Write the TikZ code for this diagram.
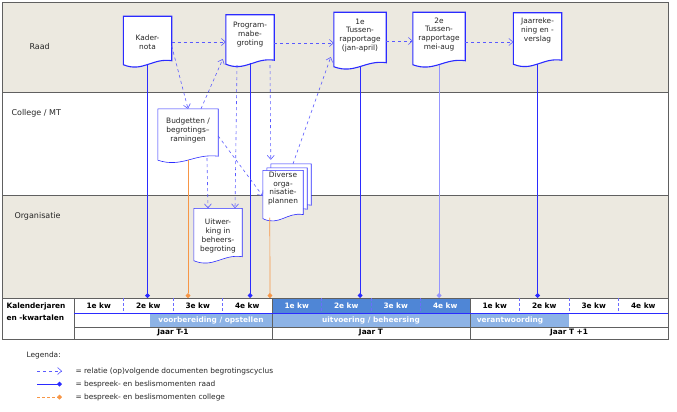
\documentclass[tikz,border=0pt]{standalone}
\usepackage{fontspec}
\setmainfont{DejaVu Sans}
\usetikzlibrary{arrows.meta,calc,shapes.geometric}
\definecolor{beige}{HTML}{ECE9E0}
\definecolor{docblue}{HTML}{2B2BFF}
\definecolor{arrblue}{HTML}{5A5AFF}
\definecolor{ora}{HTML}{F79646}
\definecolor{qblue}{HTML}{4F86D6}
\definecolor{bandblue}{HTML}{8DB3E6}
\definecolor{frame}{HTML}{606060}
\begin{document}
\begin{tikzpicture}[x=1pt,y=-1pt,font=\fontsize{7.4}{8.8}\selectfont,
  docn/.style={draw=none,inner sep=1pt,align=center,text=black!85},
  thickdoc/.style={draw=docblue,line width=1.1pt,fill=white},
  thindoc/.style={draw=docblue,line width=0.6pt,fill=white},
  rel/.style={draw=arrblue,dashed,line width=0.6pt,-{Straight Barb[length=4pt,width=7pt]}},
  raad/.style={draw=docblue,line width=1pt,-{Diamond[length=5pt,width=5pt]}},
  coll/.style={draw=ora,line width=0.7pt,-{Diamond[length=5pt,width=5pt,fill=ora]}},
  lane/.style={anchor=west,text=black!85,font=\fontsize{8}{9}\selectfont},
  kw/.style={font=\fontsize{7.4}{8.5}\selectfont\bfseries},
  band/.style={font=\fontsize{7.4}{8.5}\selectfont\bfseries,text=white}]
\newcommand\docnode[7]{%
  \node[docn,minimum width=#4pt,minimum height=#5pt] (#1) at (#2,#3) {#6};
  \path[#7] (#1.north west) -- (#1.north east) -- ($(#1.south east)+(0,-7)$)
   .. controls ($(#1.south east)+(-0.4*#4,-10)$) and ($(#1.south west)+(0.4*#4,5)$) .. ($(#1.south west)+(0,-3)$) -- cycle;
  \node[docn] at (#2,#3) {#6};}
\useasboundingbox (0,0) rectangle (677,412);
% lanes
\fill[beige] (2,2) rectangle (668,92);
\fill[beige] (2,195) rectangle (668,298);
\draw[frame,line width=0.7pt] (2,2) rectangle (668,298);
\draw[frame,line width=0.7pt] (2,92) -- (668,92) (2,195) -- (668,195);
\node[lane] (l1) at (26,47) {Raad};
\node[lane] (l2) at (8,113) {College / MT};
\node[lane] (l3) at (11,216) {Organisatie};
% table
\fill[qblue] (272,298) rectangle (470,313);
\fill[bandblue] (150,314) rectangle (272,327);
\fill[bandblue] (272,314) rectangle (470,327);
\fill[bandblue] (470,314) rectangle (569,327);
\draw[frame,line width=0.7pt] (2,298) rectangle (668,339);
\draw[frame,line width=0.6pt] (74,298) -- (74,339) (272,298) -- (272,339) (470,298) -- (470,339) (74,327) -- (668,327);
\foreach \x in {123.5,173,222.5,321.5,371,420.5,519.5,569,618.5}
  \draw[docblue!70,densely dashed,line width=0.4pt] (\x,298) -- (\x,313);
\draw[docblue,line width=1.2pt] (74,313.5) -- (668,313.5);
\node[kw,anchor=west] (k1) at (3,306) {Kalenderjaren};
\node[kw,anchor=west] (k2) at (3,318) {en -kwartalen};
\foreach \i/\t in {0/1e,1/2e,2/3e,3/4e,8/1e,9/2e,10/3e,11/4e}
  \node[kw] (q\i) at (98.75+49.5*\i,306) {\t\ kw};
\foreach \i/\t in {4/1e,5/2e,6/3e,7/4e}
  \node[kw,text=white] (q\i) at (98.75+49.5*\i,306) {\t\ kw};
\node[band] (b1) at (211,320.5) {voorbereiding / opstellen};
\node[band] (b2) at (371,320.5) {uitvoering / beheersing};
\node[band] (b3) at (510,320.5) {verantwoording};
\node[kw] (j1) at (173,333) {Jaar T-1};
\node[kw] (j2) at (371,333) {Jaar T};
\node[kw] (j3) at (569,333) {Jaar T +1};
% documents
\docnode{kad}{147.5}{42}{48}{51}{Kader-\\nota}{thickdoc}
\docnode{prog}{250}{41}{48}{52}{Program-\\mabe-\\groting\\[6pt]}{thickdoc}
\docnode{t1}{360}{41}{52}{57}{1e\\Tussen-\\rapportage\\(jan-april)\\[4pt]}{thickdoc}
\docnode{t2}{439}{40}{52}{55}{2e\\Tussen-\\rapportage\\mei-aug\\[4pt]}{thickdoc}
\docnode{jr}{537.5}{40}{48}{54}{Jaarreke-\\ning en -\\verslag\\[12pt]}{thickdoc}
\docnode{bud}{188}{136}{60}{54}{Budgetten /\\begrotings--\\ramingen\\[4pt]}{thindoc}
\docnode{uit}{218}{236}{48}{55}{Uitwer-\\king in\\beheers-\\begroting}{thindoc}
\docnode{div3}{291}{188}{40}{48}{}{thindoc}
\docnode{div2}{287}{192}{40}{48}{}{thindoc}
\docnode{div}{283}{196}{40}{49}{Diverse\\orga-\\nisatie-\\plannen\\[8pt]}{thindoc}
% timeline coordinates
\coordinate (tk) at (147.5,298);
\coordinate (tp) at (250,298);
\coordinate (t1c) at (360,298);
\coordinate (t2c) at (439,298);
\coordinate (tj) at (537.5,298);
\coordinate (tb) at (188,298);
\coordinate (td) at (270,298);
\draw[raad] ($(kad.south)+(0,-3)$) -- (tk);
\draw[raad] ($(prog.south)+(0,-4)$) -- (tp);
\draw[raad] ($(t1.south)+(0,-3)$) -- (t1c);
\draw[raad,draw=docblue!50] ($(t2.south)+(0,-3)$) -- (t2c);
\draw[raad] ($(jr.south)+(0,-3)$) -- (tj);
\draw[coll] ($(bud.south)+(0,-3)$) -- (tb);
\draw[coll] ($(div.south west)+(7,-4)$) -- (td);
% relations
\draw[rel] (kad.east) -- (prog.west |- kad.east);
\draw[rel] ($(prog.east)+(0,2)$) -- ($(t1.west)+(0,2)$);
\draw[rel] (t1.east) -- (t2.west |- t1.east);
\draw[rel] ($(t2.east)+(0,2)$) -- ($(jr.west)+(0,2)$);
\draw[rel] ($(kad.east)+(0,4)$) -- (bud.north);
\draw[rel] ($(bud.north)+(13,0)$) -- ($(prog.west)+(-3,18)$);
\draw[rel] ($(bud.south)+(19,-5)$) -- ($(uit.north)+(-10,0)$);
\draw[rel] ($(prog.south)+(-13,-2)$) -- ($(uit.north)+(17,0)$);
\draw[rel] ($(prog.south)+(20,-2)$) -- ($(div3.north west)+(0,-4)$);
\draw[rel] (bud.east) -- (div.west);
\draw[rel] ($(div3.north)+(2,0)$) -- ($(t1.west)+(-3,16)$);
% legend
\node[anchor=west,text=black!85] (leg) at (23,355) {Legenda:};
\coordinate (a1) at (37,371); \coordinate (a2) at (62,371);
\coordinate (r1) at (37,384); \coordinate (r2) at (62,384);
\coordinate (c1) at (37,397); \coordinate (c2) at (62,397);
\draw[rel] (a1) -- (a2);
\draw[raad] (r1) -- (r2);
\draw[coll,densely dashed] (c1) -- (c2);
\node[anchor=west,text=black!85] (t1l) at (72,371) {= relatie (op)volgende documenten begrotingscyclus};
\node[anchor=west,text=black!85] (t2l) at (72,384) {= bespreek- en beslismomenten raad};
\node[anchor=west,text=black!85] (t3l) at (72,397) {= bespreek- en beslismomenten college};
\end{tikzpicture}
\end{document}
